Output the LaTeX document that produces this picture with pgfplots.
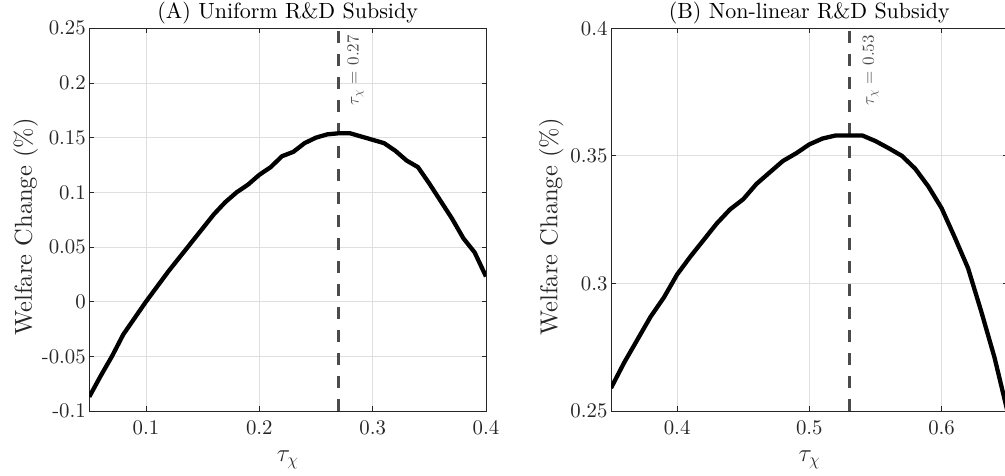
\documentclass[border=0pt]{standalone}
\usepackage{fontspec}
\setmainfont{lmroman10-regular}[Extension=.otf, BoldFont=lmroman10-bold, ItalicFont=lmroman10-italic]
\usepackage{pgfplots}
\pgfplotsset{compat=1.18}
\definecolor{axisc}{RGB}{38,38,38}
\definecolor{gridc}{RGB}{223,223,223}
\definecolor{vlc}{RGB}{75,75,75}
\newcommand{\tickfont}{\fontsize{20.8}{24}\selectfont}
\newcommand{\titlefont}{\fontsize{22}{26}\selectfont}
\newcommand{\labfont}{\fontsize{24.5}{28}\selectfont}
\newcommand{\annfont}{\fontsize{17}{20}\selectfont}
\pgfplotsset{mystyle/.style={
  scale only axis, width=396.7pt, height=382.7pt, anchor=south west,
  axis line style={axisc, line width=0.9pt},
  tick align=inside, major tick length=4.5pt,
  every tick/.style={axisc, line width=0.8pt},
  grid=major, major grid style={gridc, line width=0.8pt},
  ticklabel style={font=\tickfont, text=axisc},
  xticklabel style={anchor=base, yshift=-24pt},
  every axis title shift=0pt,
  title style={font=\titlefont, anchor=base, at={(axis description cs:0.5,1.0261)}},
  xlabel style={font=\labfont, text=axisc, anchor=base, at={(axis description cs:0.5,-0.1325)}},
  ylabel style={font=\labfont, text=axisc, anchor=base},
  xlabel={$\tau_\chi$},
  ylabel={Welfare Change (\%)},
  clip=true,
}}
\begin{document}
\begin{tikzpicture}[x=1pt,y=1pt]
\useasboundingbox (0,0) rectangle (1005,476);
\clip (0,0) rectangle (1005,476);
\begin{axis}[mystyle, at={(89.3pt,65pt)},
  xmin=0.05, xmax=0.4, ymin=-0.1, ymax=0.25,
  xtick={0.1,0.2,0.3,0.4}, xticklabels={0.1,0.2,0.3,0.4},
  ytick={-0.1,-0.05,0,0.05,0.1,0.15,0.2,0.25},
  yticklabels={-0.1,-0.05,0,0.05,0.1,0.15,0.2,0.25},
  ylabel style={at={(axis description cs:-0.1445,0.481)}},
  title={(A) Uniform R\&D Subsidy}]
\addplot[vlc, line width=3pt, dash pattern=on 12pt off 11pt] coordinates {(0.27,-0.1) (0.27,0.25)};
\addplot[black, line width=4.3pt, line join=round] coordinates {
(0.05,-0.087) (0.06,-0.068) (0.07,-0.050) (0.08,-0.030) (0.09,-0.015)
(0.10,0.000) (0.11,0.014) (0.12,0.028) (0.13,0.041) (0.14,0.054)
(0.15,0.067) (0.16,0.080) (0.17,0.091) (0.18,0.100) (0.19,0.107)
(0.20,0.116) (0.21,0.123) (0.22,0.133) (0.23,0.137) (0.24,0.145)
(0.25,0.150) (0.26,0.153) (0.27,0.154) (0.28,0.154) (0.29,0.151)
(0.30,0.148) (0.31,0.145) (0.32,0.138) (0.33,0.129) (0.34,0.123)
(0.35,0.108) (0.36,0.092) (0.37,0.076) (0.38,0.058) (0.39,0.045)
(0.40,0.023)};
\node[rotate=90, anchor=north east, inner sep=0pt, text=vlc, font=\annfont] at (axis cs:0.2774,0.2439) {$\tau_\chi$ = 0.27};
\end{axis}
\begin{axis}[mystyle, at={(611pt,65pt)},
  xmin=0.35, xmax=0.65, ymin=0.25, ymax=0.4,
  xtick={0.4,0.5,0.6}, xticklabels={0.4,0.5,0.6},
  ytick={0.25,0.3,0.35,0.4},
  yticklabels={0.25,0.3,0.35,0.4},
  ylabel style={at={(axis description cs:-0.1354,0.481)}},
  title={(B) Non-linear R\&D Subsidy}]
\addplot[vlc, line width=3pt, dash pattern=on 12pt off 11pt] coordinates {(0.53,0.25) (0.53,0.4)};
\addplot[black, line width=4.3pt, line join=round] coordinates {
(0.35,0.259) (0.36,0.269) (0.37,0.278) (0.38,0.287) (0.39,0.2945)
(0.40,0.3035) (0.41,0.3105) (0.42,0.317) (0.43,0.3235) (0.44,0.329)
(0.45,0.333) (0.46,0.339) (0.47,0.3435) (0.48,0.348) (0.49,0.351)
(0.50,0.3545) (0.51,0.3568) (0.52,0.358) (0.53,0.358) (0.54,0.358)
(0.55,0.3558) (0.56,0.353) (0.57,0.350) (0.58,0.345) (0.59,0.338)
(0.60,0.3295) (0.61,0.318) (0.62,0.306) (0.63,0.289) (0.64,0.271)
(0.65,0.2495)};
\node[rotate=90, anchor=north east, inner sep=0pt, text=vlc, font=\annfont] at (axis cs:0.5401,0.3974) {$\tau_\chi$ = 0.53};
\end{axis}
\end{tikzpicture}
\end{document}
